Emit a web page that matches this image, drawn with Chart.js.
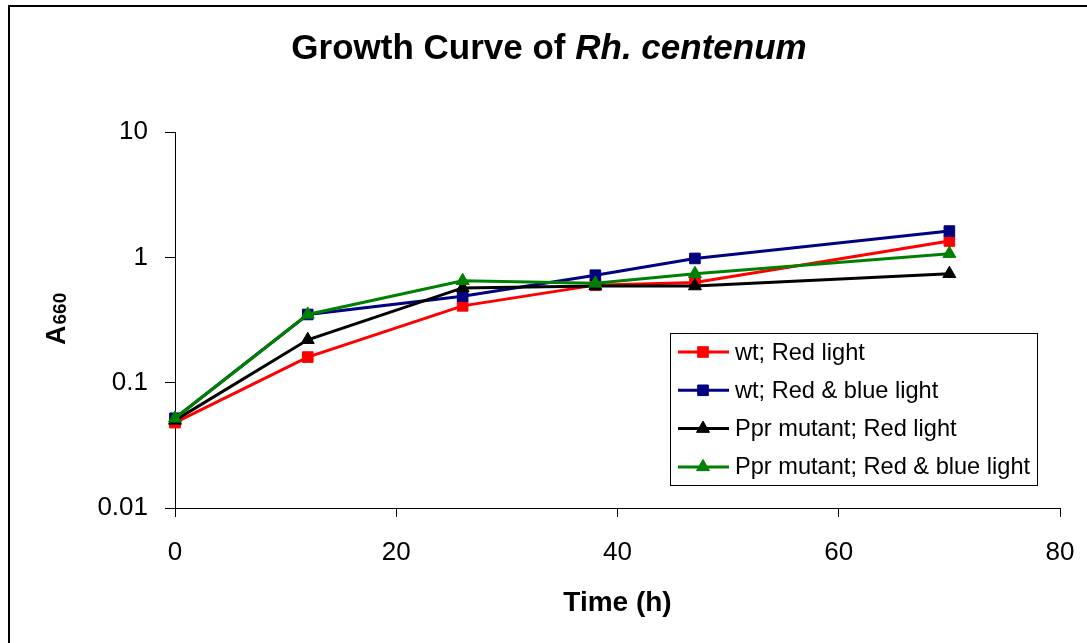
<!DOCTYPE html>
<html>
<head>
<meta charset="utf-8">
<script src="https://cdn.jsdelivr.net/npm/chart.js@4.4.1/dist/chart.umd.min.js"></script>
<style>
  html, body { margin: 0; padding: 0; background: #fff; }
  #frame { position: absolute; left: 8px; top: 5px; width: 1200px; height: 800px;
           border-left: 2px solid #000; border-top: 2px solid #000; box-sizing: border-box; }
  #wrap { position: absolute; left: 0; top: 0; width: 1087px; height: 643px; }
</style>
</head>
<body>
<div id="frame"></div>
<div id="wrap"><canvas id="c" width="1087" height="643"></canvas></div>
<script>
// Sampling times (h) and absorbance at 660 nm for each culture
const timeH      = [0, 12, 26, 38, 47, 70];
const wtRed      = [0.048, 0.16, 0.41, 0.60, 0.63, 1.35];
const wtRedBlue  = [0.052, 0.35, 0.49, 0.72, 0.98, 1.62];
const pprRed     = [0.050, 0.22, 0.57, 0.59, 0.59, 0.74];
const pprRedBlue = [0.052, 0.35, 0.65, 0.62, 0.74, 1.07];

const seriesLabels = ['wt; Red light', 'wt; Red & blue light', 'Ppr mutant; Red light', 'Ppr mutant; Red & blue light'];
const yTicks = [0.01, 0.1, 1, 10];
const xTicks = [0, 20, 40, 60, 80];

const FONT = '"Liberation Sans", Arial, Helvetica, sans-serif';

function pts(ys) { return timeH.map((t, i) => ({ x: t, y: ys[i] })); }

function series(label, ys, color, style, order) {
  return {
    label, data: pts(ys), borderColor: color, backgroundColor: color,
    borderWidth: 3, pointStyle: style, pointRadius: 7.5, pointHoverRadius: 7.5,
    pointBorderWidth: 1, pointBorderColor: color, pointBackgroundColor: color,
    tension: 0, clip: false, order
  };
}

// Title, axis titles and the in-plot legend box
const decorations = {
  id: 'decorations',
  afterDraw(chart) {
    const ctx = chart.ctx;
    const area = chart.chartArea;
    ctx.save();
    ctx.fillStyle = '#000';
    ctx.textBaseline = 'alphabetic';

    // Chart title with italic species name
    const t1 = 'Growth Curve of ', t2 = 'Rh. centenum';
    const f1 = 'bold 35px ' + FONT, f2 = 'italic bold 35px ' + FONT;
    ctx.font = f1; const w1 = ctx.measureText(t1).width;
    ctx.font = f2; const w2 = ctx.measureText(t2).width;
    let tx = 549 - (w1 + w2) / 2;
    ctx.textAlign = 'left';
    ctx.font = f1; ctx.fillText(t1, tx, 59);
    ctx.font = f2; ctx.fillText(t2, tx + w1, 59);

    // X axis title
    ctx.font = 'bold 28px ' + FONT;
    ctx.textAlign = 'center';
    ctx.fillText('Time (h)', (area.left + area.right) / 2, 611);

    // Y axis title A660 with subscript
    ctx.save();
    ctx.translate(65, 345);
    ctx.rotate(-Math.PI / 2);
    ctx.textAlign = 'left';
    ctx.font = 'bold 27px ' + FONT;
    const wa = ctx.measureText('A').width;
    ctx.fillText('A', 0, 0);
    ctx.font = 'bold 19px ' + FONT;
    ctx.fillText('660', wa + 1, 1);
    ctx.restore();

    // Legend box
    const bx = 670, by = 333, bw = 367, bh = 152;
    ctx.fillStyle = '#fff';
    ctx.fillRect(bx, by, bw, bh);
    ctx.strokeStyle = '#000';
    ctx.lineWidth = 1;
    ctx.strokeRect(bx + 0.5, by + 0.5, bw, bh);
    ctx.font = '23.6px ' + FONT;
    ctx.textAlign = 'left';
    ctx.textBaseline = 'middle';
    chart.data.datasets.forEach((ds, i) => {
      const cy = 352 + i * 38.3;
      ctx.strokeStyle = ds.borderColor;
      ctx.lineWidth = 3;
      ctx.beginPath();
      ctx.moveTo(678, cy);
      ctx.lineTo(729, cy);
      ctx.stroke();
      ctx.fillStyle = ds.borderColor;
      ctx.lineWidth = 1;
      Chart.helpers.drawPoint(ctx, { pointStyle: ds.pointStyle, radius: ds.pointRadius, borderWidth: 1, rotation: 0 }, 703, cy);
      ctx.fillStyle = '#000';
      ctx.fillText(ds.label, 735, cy + 1);
    });
    ctx.restore();
  }
};

new Chart(document.getElementById('c'), {
  type: 'line',
  data: {
    datasets: [
      series(seriesLabels[0], wtRed, '#FF0000', 'rect', 3),
      series(seriesLabels[1], wtRedBlue, '#000080', 'rect', 2),
      series(seriesLabels[2], pprRed, '#000000', 'triangle', 1),
      series(seriesLabels[3], pprRedBlue, '#008000', 'triangle', 0)
    ]
  },
  options: {
    responsive: false,
    animation: false,
    events: [],
    layout: { padding: { top: 132, right: 27, bottom: 0, left: 0 } },
    plugins: { legend: { display: false }, title: { display: false }, tooltip: { enabled: false } },
    scales: {
      x: {
        type: 'linear', min: 0, max: 80,
        afterFit(s) { s.height = 135; s.paddingLeft = 0; s.paddingRight = 0; },
        afterBuildTicks(s) { s.ticks = xTicks.map(v => ({ value: v })); },
        grid: { drawOnChartArea: false, drawTicks: true, tickLength: 9, color: '#000', lineWidth: 1 },
        border: { display: true, color: '#000', width: 1 },
        ticks: { color: '#000', font: { family: FONT, size: 26 }, padding: 20, maxRotation: 0 }
      },
      y: {
        type: 'logarithmic', min: 0.01, max: 10,
        afterFit(s) { s.width = 175; s.paddingTop = 0; s.paddingBottom = 0; },
        afterBuildTicks(s) { s.ticks = yTicks.map(v => ({ value: v })); },
        grid: { drawOnChartArea: false, drawTicks: true, tickLength: 10, color: '#000', lineWidth: 1 },
        border: { display: true, color: '#000', width: 1 },
        ticks: { color: '#000', font: { family: FONT, size: 26 }, padding: 17,
                 callback: v => String(v) }
      }
    }
  },
  plugins: [decorations]
});
</script>
</body>
</html>
